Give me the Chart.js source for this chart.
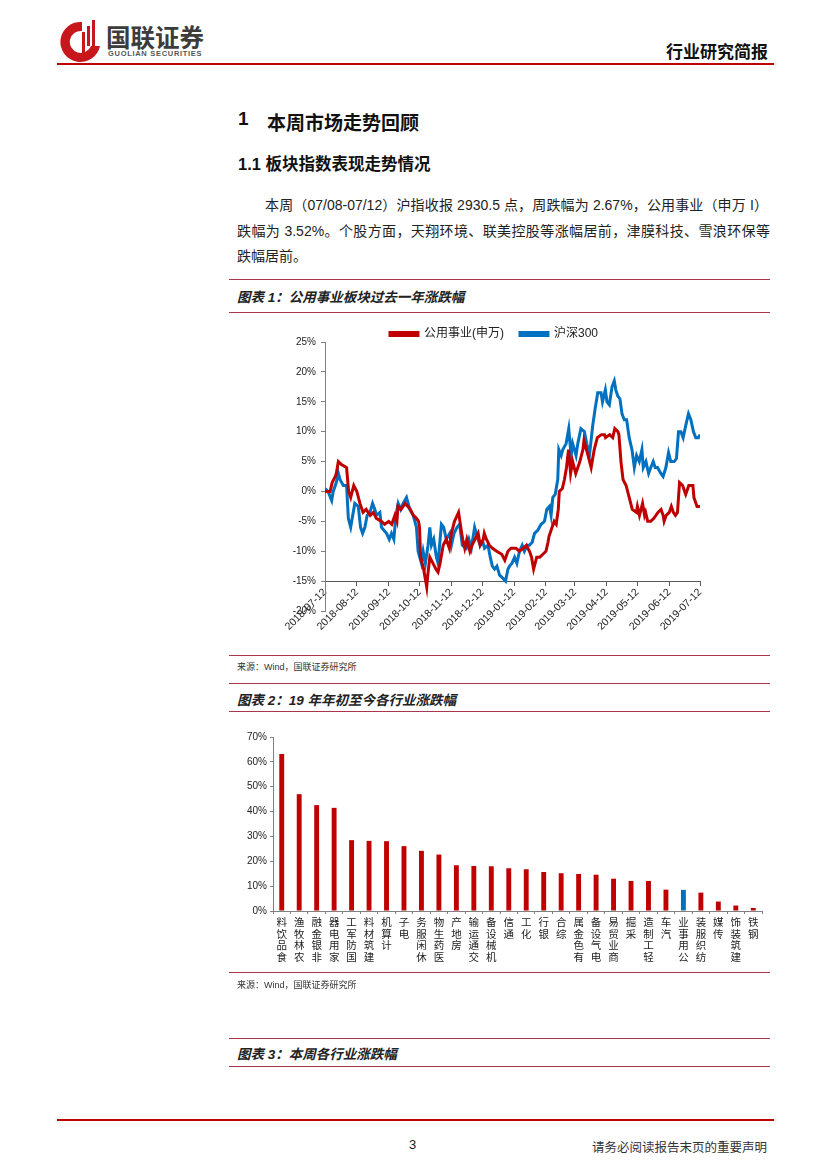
<!DOCTYPE html>
<html>
<head>
<meta charset="utf-8">
<script src="https://cdn.jsdelivr.net/npm/chart.js@4.4.1/dist/chart.umd.min.js"></script>
<style>
  html, body { margin: 0; padding: 0; background: #fff; }
  body { width: 827px; height: 1169px; position: relative; overflow: hidden;
         font-family: "Liberation Sans", "Noto Sans CJK SC", sans-serif; color: #222; }
  .abs { position: absolute; white-space: nowrap; }
  .rule { position: absolute; left: 229px; width: 541px; height: 1px; background: #a8374b; }
  .caption { font-size: 13.5px; font-weight: bold; font-style: italic; left: 237px; }
  .source { font-size: 9px; left: 237px; color: #333; }
  .para { font-size: 14px; line-height: 18px; text-align: justify; text-align-last: justify; }
</style>
</head>
<body>
  <svg class="abs" style="left:58px;top:18px" width="44" height="46" viewBox="0 0 44 46">
    <path d="M24 4 A20 20 0 1 0 42 28 L33 28 A11 11 0 1 1 24 13 Z" fill="#c8161d"/>
    <rect x="24" y="14" width="3" height="28" fill="#c8161d"/>
    <rect x="29" y="8" width="3" height="20" fill="#c8161d"/>
    <rect x="34" y="2" width="3" height="26" fill="#c8161d"/>
  </svg>
  <div class="abs" style="left:106px;top:25px;font-size:24.5px;line-height:24px;font-weight:bold;color:#3c3c3c;font-family:'Noto Sans CJK SC'">国联证券</div>
  <div class="abs" style="left:108px;top:50px;font-size:7.5px;line-height:7px;font-weight:bold;color:#555;letter-spacing:0.7px">GUOLIAN SECURITIES</div>
  <div class="abs" style="left:666px;top:38px;font-size:17px;font-weight:bold;color:#111;font-family:'Noto Sans CJK SC'">行业研究简报</div>
  <div class="abs" style="left:57px;top:63px;width:717px;height:2px;background:#c00000"></div>

  <div class="abs" style="left:238px;top:108px;font-size:19px;font-weight:bold;color:#111">1</div>
  <div class="abs" style="left:267px;top:108px;font-size:19px;font-weight:bold;color:#111;font-family:'Noto Sans CJK SC'">本周市场走势回顾</div>
  <div class="abs" style="left:238px;top:151px;font-size:16.5px;font-weight:bold;color:#111">1.1 板块指数表现走势情况</div>

  <div class="abs para" style="left:265px;top:196px;width:503px">本周（07/08-07/12）沪指收报 2930.5 点，周跌幅为 2.67%，公用事业（申万 I）</div>
  <div class="abs para" style="left:237px;top:222px;width:533px">跌幅为 3.52%。个股方面，天翔环境、联美控股等涨幅居前，津膜科技、雪浪环保等</div>
  <div class="abs" style="left:237px;top:247px;font-size:14px;line-height:18px">跌幅居前。</div>

  <div class="rule" style="top:279px"></div>
  <div class="abs caption" style="top:286px">图表 1：公用事业板块过去一年涨跌幅</div>
  <div class="rule" style="top:312px"></div>

  <div class="abs" style="left:230px;top:320px;width:480px;height:328px"><canvas id="lineChart"></canvas></div>

  <div class="rule" style="top:655px"></div>
  <div class="abs source" style="top:660px">来源：Wind，国联证券研究所</div>
  <div class="rule" style="top:683px"></div>
  <div class="abs caption" style="top:689px">图表 2：19 年年初至今各行业涨跌幅</div>
  <div class="rule" style="top:711px"></div>

  <div class="abs" style="left:230px;top:722px;width:540px;height:252px"><canvas id="barChart"></canvas></div>

  <div class="rule" style="top:972px"></div>
  <div class="abs source" style="top:978px">来源：Wind，国联证券研究所</div>

  <div class="rule" style="top:1038px"></div>
  <div class="abs caption" style="top:1043px">图表 3：本周各行业涨跌幅</div>
  <div class="rule" style="top:1066px"></div>

  <div class="abs" style="left:57px;top:1119px;width:717px;height:2px;background:#c00000"></div>
  <div class="abs" style="left:409px;top:1137px;font-size:13px">3</div>
  <div class="abs" style="left:592px;top:1137px;font-size:12.5px;color:#333">请务必阅读报告末页的重要声明</div>

<script>
// chart 1: days since 2018-07-12, cumulative change in %
const utilDays = [0,5,7,10,11,13,16,19,21,23,25,28,31,34,37,40,44,47,50,55,58,62,65,68,70,71,74,78,83,86,89,91,92,93,96,97,99,100,102,105,108,110,112,115,118,120,121,123,126,130,133,134,136,138,141,143,146,149,151,154,155,157,160,163,167,172,175,178,181,186,189,193,196,199,201,203,206,209,212,215,217,218,221,223,225,227,228,231,233,235,237,239,241,244,248,251,252,256,259,262,265,269,272,273,277,280,282,285,286,288,290,293,296,299,303,304,306,309,311,312,314,317,320,324,327,329,330,332,335,337,339,341,343,345,348,351,352,354,358,359,362,365];
const utilValues = [0,0,1.5,2.5,3,5,4.5,4.2,4,0,-1,1,0,-2,-3.5,-3,-4,-3.5,-4.5,-5,-5.5,-5,-5.5,-4,-5,-2.5,-3,-2,-3,-4,-4.5,-5,-6,-11,-13,-14,-16,-14,-11,-12,-13,-13.5,-12,-9,-8,-9,-9.5,-7,-5,-3.5,-7,-8,-9.5,-8,-10,-9,-8,-7,-9,-8,-7,-8,-9,-9.5,-10,-10.5,-11.5,-10,-9.5,-9.5,-10,-9.5,-9,-10,-11,-13,-11,-11,-10.5,-10,-8.5,-7.5,-6,-5,-5.5,-3,0,0.5,2,4,7,3,5,3,5,7,8.5,6,4,7,9,9.5,9.5,9,9.5,9,10.5,10,9.5,5,2,1,-1,-3,-3.5,-2.5,-4,-2,-4,-3.5,-5,-5,-4.5,-3.5,-3,-4,-5,-4,-3.5,-2.5,-3.5,-4,-3.5,1.5,1,-0.5,0,1,1,-1,-2.5,-2.5];
const hs300Days = [0,3,6.5,8,11,13,14.6,17.8,21,22.7,25,27,29,32.4,34.6,36.6,38.8,41,43.7,46.3,48.5,50,53.4,55,57.3,59.9,62.5,64.7,67,69,71.2,73.5,76,79.3,82.5,85.8,89,90.6,93.8,95.5,97.7,100.3,102,103.6,105.8,108.4,110,113.3,115.5,118,121.4,123,125.6,128.5,131,133.6,137.5,140,142.4,145.6,148.9,151,153.7,155.3,158.6,160.8,162.8,165,167.3,169.9,173,175.7,178,179.6,182,184.5,186.7,189.3,191.9,194,196.7,199,201.6,203.9,207,210.3,213.6,215.8,218.4,220,221.7,224,226.5,227.5,229.8,231.4,234.6,237.2,239.5,241,242.7,244.3,246,249,252.4,254.7,257.3,260.5,263,265.4,268.6,270,272.8,274.4,276.7,279.3,281.5,283,284.8,287,289,291.2,293.5,296,298.7,301,303.2,305.8,308.4,309.7,312.3,314.9,317,319.4,321.3,323.6,326.8,329,331.7,334.3,336.5,339.8,342,344,346.3,348.5,351,353.7,356,358.5,360.8,363.4,365];
const hs300Values = [0.5,0,-1.5,0,1.5,3,2,1,1,-4.5,-6,-4,-2,-2.5,-6,-7,-6,-4,-3.5,-2,-3,-4,-3.5,-6,-6.5,-7,-8,-7,-8,-4,-2,-3,-2,-1,-3,-4,-6,-10,-12,-10,-12,-9,-6,-9,-8,-11,-12,-5.5,-6,-8,-7,-9,-7,-6,-5.5,-9,-9.5,-8,-9.5,-6,-8,-9,-8.5,-9.5,-9,-11,-12.5,-13,-12.5,-14,-14.5,-15,-13,-12.5,-12,-11,-12,-10,-9,-10,-9,-9,-8.5,-7,-6.5,-5.5,-5,-3,-2.5,-4,-1,-0.5,2,7,6,7,8,10.5,6,8,7,6,8,10.5,10,8,6,11,14,16.5,16.5,15,17,15,14.5,17.5,18.5,17,16,15.5,13,12,12,9,7,4,6,5,7,4,5,3,4,5,4,4,3,2.5,4,6.5,5,5,5.5,10,10,9,11,13,12,10,9,9,9.5];
const monthTicks = ['2018-07-12','2018-08-12','2018-09-12','2018-10-12','2018-11-12','2018-12-12','2019-01-12','2019-02-12','2019-03-12','2019-04-12','2019-05-12','2019-06-12','2019-07-12'];
const yTicks1 = [25, 20, 15, 10, 5, 0, -5, -10, -15, -20];

// chart 2: year-to-date change by industry, %
const industries = ['食品饮料','农林牧渔','非银金融','家用电器','国防军工','建筑材料','计算机','电子','休闲服务','医药生物','房地产','交通运输','机械设备','通信','化工','银行','综合','有色金属','电气设备','商业贸易','采掘','轻工制造','汽车','公用事业','纺织服装','传媒','建筑装饰','钢铁'];
const ytdChange = [63.2,47.0,42.6,41.5,28.5,28.2,28.1,26.1,24.2,22.7,18.4,18.1,18.0,17.2,16.8,15.7,15.2,14.9,14.6,13.0,12.1,12.1,8.6,8.5,7.4,3.8,2.2,1.2];
const highlighted = '公用事业';

const RED = '#c00000';
const BLUE = '#0070c0';

Chart.defaults.font.family = '"Liberation Sans", "Noto Sans CJK SC", sans-serif';
Chart.defaults.color = '#222';
Chart.defaults.animation = false;

function dayOffset(dateStr) {
  return (Date.parse(dateStr) - Date.parse(monthTicks[0])) / 86400000;
}

// the default legend box leaves a tall gap under it; pull the plot up
const tightLegend = {
  id: 'tightLegend',
  beforeLayout(chart) {
    const lg = chart.legend;
    if (!lg || lg._tight) return;
    const fit = lg.fit;
    lg.fit = function () { fit.call(this); this.height -= 8; };
    lg._tight = true;
  }
};

new Chart(document.getElementById('lineChart'), {
  type: 'line',
  plugins: [tightLegend],
  data: {
    datasets: [{
      label: '公用事业(申万)',
      data: utilDays.map((d, i) => ({ x: d, y: utilValues[i] })),
      borderColor: RED,
      backgroundColor: RED,
      borderWidth: 3,
      pointRadius: 0,
      tension: 0
    }, {
      label: '沪深300',
      data: hs300Days.map((d, i) => ({ x: d, y: hs300Values[i] })),
      borderColor: BLUE,
      backgroundColor: BLUE,
      borderWidth: 3,
      pointRadius: 0,
      tension: 0
    }]
  },
  options: {
    responsive: true,
    maintainAspectRatio: false,
    // x axis sits at -15%, so its labels live inside the bottom padding
    layout: { padding: { top: 4, right: 9, left: 57, bottom: 37 } },
    plugins: {
      legend: {
        display: true,
        position: 'top',
        labels: {
          boxWidth: 28,
          boxHeight: 3,
          padding: 4,
          font: { size: 12 },
          color: '#222',
          // wider gap between the two entries, as in the source
          generateLabels: chart => Chart.defaults.plugins.legend.labels.generateLabels(chart)
            .map((item, i) => i === 0 ? { ...item, text: item.text + '\u2003' } : item)
        }
      },
      tooltip: { enabled: false }
    },
    scales: {
      x: {
        type: 'linear',
        min: 0,
        max: dayOffset(monthTicks[monthTicks.length - 1]),
        position: { y: -15 },
        afterBuildTicks: axis => { axis.ticks = monthTicks.map(t => ({ value: dayOffset(t) })); },
        grid: { display: true, drawOnChartArea: false, drawTicks: true, tickLength: 4, color: '#595959' },
        border: { display: true, color: '#595959', width: 1 },
        ticks: {
          autoSkip: false,
          minRotation: 45,
          maxRotation: 45,
          padding: 1,
          font: { size: 10.5 },
          color: '#222',
          callback: (v, i) => monthTicks[i]
        }
      },
      y: {
        min: -20,
        max: 25,
        afterBuildTicks: axis => { axis.ticks = yTicks1.map(v => ({ value: v })); },
        afterFit: axis => { axis.width = 38; },
        grid: { display: true, drawOnChartArea: false, drawTicks: true, tickLength: 4, color: '#808080' },
        border: { display: true, color: '#808080', width: 1 },
        ticks: { padding: 5, font: { size: 10 }, color: '#222', callback: v => v + '%' }
      }
    }
  }
});

new Chart(document.getElementById('barChart'), {
  type: 'bar',
  data: {
    // labels read bottom-to-top in the source, one glyph per line
    labels: industries.map(n => n.split('').reverse()),
    datasets: [{
      data: ytdChange,
      backgroundColor: industries.map(n => n === highlighted ? BLUE : RED),
      barPercentage: 0.28,
      categoryPercentage: 1
    }]
  },
  options: {
    responsive: true,
    maintainAspectRatio: false,
    layout: { padding: { top: 15, right: 8, left: 0, bottom: 0 } },
    plugins: { legend: { display: false }, tooltip: { enabled: false } },
    scales: {
      x: {
        afterFit: axis => { axis.height = 63; },
        grid: { display: true, offset: true, drawOnChartArea: false, drawTicks: true, tickLength: 3, color: '#808080' },
        border: { display: true, color: '#808080', width: 1 },
        ticks: { autoSkip: false, maxRotation: 0, minRotation: 0, padding: 3, font: { size: 10.5, lineHeight: 1.12 }, color: '#222' }
      },
      y: {
        min: 0,
        max: 70,
        ticks: { stepSize: 10, padding: 3, font: { size: 10 }, color: '#222', callback: v => v + '%' },
        afterFit: axis => { axis.width = 43; },
        grid: { display: true, drawOnChartArea: false, drawTicks: true, tickLength: 3, color: '#808080' },
        border: { display: true, color: '#808080', width: 1 }
      }
    }
  }
});
</script>
</body>
</html>
